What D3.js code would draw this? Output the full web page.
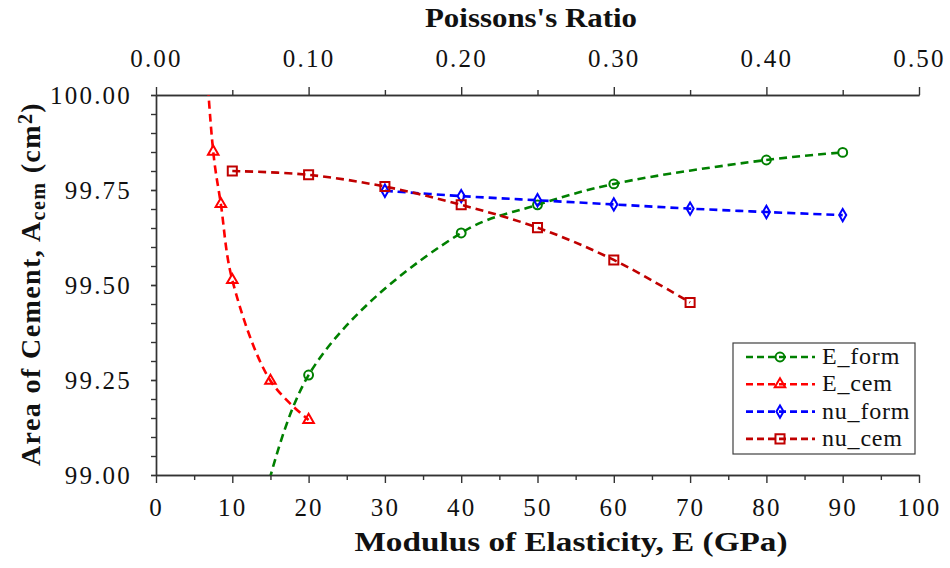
<!DOCTYPE html>
<html>
<head>
<meta charset="utf-8">
<script src="https://cdn.jsdelivr.net/npm/d3@7"></script>
<style>
  body { margin: 0; background: #fff; }
  svg text { font-family: "Liberation Serif", "Times New Roman", serif; fill: #111; }
</style>
</head>
<body>
<div id="chart"></div>
<script>
// Data
const eForm = [10, 20, 40, 50, 60, 80, 90];
const aEForm = [98.52, 99.263, 99.637, 99.711, 99.766, 99.829, 99.849];

const eCem = [5, 7.5, 8.5, 10, 15, 20];
const aECem = [100.6, 99.851, 99.713, 99.513, 99.248, 99.145];

const nuForm = [0.15, 0.20, 0.25, 0.30, 0.35, 0.40, 0.45];
const aNuForm = [99.748, 99.734, 99.723, 99.712, 99.701, 99.692, 99.684];

const nuCem = [0.05, 0.10, 0.15, 0.20, 0.25, 0.30, 0.35];
const aNuCem = [99.800, 99.790, 99.759, 99.711, 99.651, 99.566, 99.454];

const xTicks = [0, 10, 20, 30, 40, 50, 60, 70, 80, 90, 100];
const nuTicks = [0, 0.1, 0.2, 0.3, 0.4, 0.5];
const yTicks = [99, 99.25, 99.5, 99.75, 100];

const W = 950, H = 568;
const pL = 156, pR = 919, pT = 95, pB = 475;
const serif = '"Liberation Serif", "Times New Roman", serif';

const svg = d3.select("#chart").append("svg")
  .attr("width", W).attr("height", H);

const x = d3.scaleLinear().domain([0, 100]).range([pL, pR]);
const xNu = d3.scaleLinear().domain([0, 0.5]).range([pL, pR]);
const y = d3.scaleLinear().domain([99, 100]).range([pB, pT]);

// clip
svg.append("clipPath").attr("id", "plot")
  .append("rect").attr("x", pL).attr("y", pT)
  .attr("width", pR - pL).attr("height", pB - pT);

// Axes
function styleAxis(g) {
  g.attr("font-family", serif);
  g.selectAll("path, line").attr("stroke", "#333").attr("stroke-width", 1.4);
  g.selectAll("text")
    .style("font-family", serif)
    .style("font-size", "25px")
    .style("letter-spacing", "2.2px")
    .attr("fill", "#111");
}

// bottom minor
svg.append("g").attr("transform", "translate(0," + pB + ")")
  .call(d3.axisBottom(x).tickValues(d3.range(5, 100, 10)).tickSize(5).tickSizeOuter(0).tickFormat(""))
  .call(styleAxis);
svg.append("g").attr("transform", "translate(0," + pB + ")")
  .call(d3.axisBottom(x).tickValues(xTicks).tickSize(8).tickSizeOuter(0).tickPadding(15).tickFormat(d3.format("d")))
  .call(styleAxis);

// top
svg.append("g").attr("transform", "translate(0," + pT + ")")
  .call(d3.axisTop(xNu).tickValues(d3.range(0.05, 0.5, 0.1)).tickSize(5).tickSizeOuter(0).tickFormat(""))
  .call(styleAxis);
svg.append("g").attr("transform", "translate(0," + pT + ")")
  .call(d3.axisTop(xNu).tickValues(nuTicks).tickSize(8).tickSizeOuter(0).tickPadding(20).tickFormat(d3.format(".2f")))
  .call(styleAxis);

// left
svg.append("g").attr("transform", "translate(" + pL + ",0)")
  .call(d3.axisLeft(y).tickValues(d3.range(99, 100.001, 0.05)).tickSize(5).tickSizeOuter(0).tickFormat(""))
  .call(styleAxis);
svg.append("g").attr("transform", "translate(" + pL + ",0)")
  .call(d3.axisLeft(y).tickValues(yTicks).tickSize(5).tickSizeOuter(0).tickPadding(19).tickFormat(d3.format(".2f")))
  .call(styleAxis);

// Axis titles
svg.append("text").attr("x", 531).attr("y", 27).attr("text-anchor", "middle")
  .attr("textLength", 212).attr("lengthAdjust", "spacingAndGlyphs")
  .style("font-size", "27px").style("font-weight", "bold").text("Poissons's Ratio");
svg.append("text").attr("x", 571).attr("y", 551).attr("text-anchor", "middle")
  .attr("textLength", 433).attr("lengthAdjust", "spacingAndGlyphs")
  .style("font-size", "28px").style("font-weight", "bold").text("Modulus of Elasticity, E (GPa)");

const yt = svg.append("text").attr("transform", "translate(40,284) rotate(-90)")
  .attr("text-anchor", "middle").style("font-size", "28px").style("font-weight", "bold")
  .style("letter-spacing", "1.4px");
yt.append("tspan").text("Area of Cement, A");
yt.append("tspan").attr("baseline-shift", "-25%").style("font-size", "20px").text("cem");
yt.append("tspan").text(" (cm");
yt.append("tspan").attr("baseline-shift", "40%").style("font-size", "20px").text("2");
yt.append("tspan").text(")");

// Series
const series = [
  { name: "E_form", xs: eForm, ys: aEForm, sx: x, color: "#008000", shape: "circle" },
  { name: "E_cem", xs: eCem, ys: aECem, sx: x, color: "#ff0000", shape: "triangle" },
  { name: "nu_form", xs: nuForm, ys: aNuForm, sx: xNu, color: "#0000ff", shape: "diamond" },
  { name: "nu_cem", xs: nuCem, ys: aNuCem, sx: xNu, color: "#c00000", shape: "square" }
];

const symbolType = {
  circle: d3.symbolCircle, triangle: d3.symbolTriangle,
  diamond: d3.symbolDiamond, square: d3.symbolSquare
};
const symbolSize = { circle: 62, triangle: 48, diamond: 44, square: 82 };

const plot = svg.append("g").attr("clip-path", "url(#plot)");

series.forEach(function (s) {
  const pts = s.xs.map(function (v, i) { return [s.sx(v), y(s.ys[i])]; });
  plot.append("path")
    .attr("d", d3.line().curve(d3.curveCatmullRom.alpha(0.5))(pts))
    .attr("fill", "none").attr("stroke", s.color)
    .attr("stroke-width", 2.6).attr("stroke-dasharray", "8,5");
  plot.selectAll(null).data(pts).enter().append("path")
    .attr("transform", function (d) { return "translate(" + d[0] + "," + d[1] + ")"; })
    .attr("d", d3.symbol().type(symbolType[s.shape]).size(symbolSize[s.shape]))
    .attr("fill", "none").attr("stroke", s.color).attr("stroke-width", 2);
});

// Legend
const lg = svg.append("g");
lg.append("rect").attr("x", 733).attr("y", 343).attr("width", 182).attr("height", 111)
  .attr("fill", "#fff").attr("stroke", "#404040").attr("stroke-width", 1.2);
series.forEach(function (s, i) {
  const ry = 357 + i * 27.3;
  lg.append("line").attr("x1", 746).attr("x2", 815).attr("y1", ry).attr("y2", ry)
    .attr("stroke", s.color).attr("stroke-width", 2.6).attr("stroke-dasharray", "7,4");
  lg.append("path").attr("transform", "translate(780," + ry + ")")
    .attr("d", d3.symbol().type(symbolType[s.shape]).size(symbolSize[s.shape]))
    .attr("fill", "none").attr("stroke", s.color).attr("stroke-width", 2);
  lg.append("text").attr("x", 822).attr("y", ry + 7)
    .style("font-size", "24px").style("letter-spacing", "0.8px").text(s.name);
});
</script>
</body>
</html>
